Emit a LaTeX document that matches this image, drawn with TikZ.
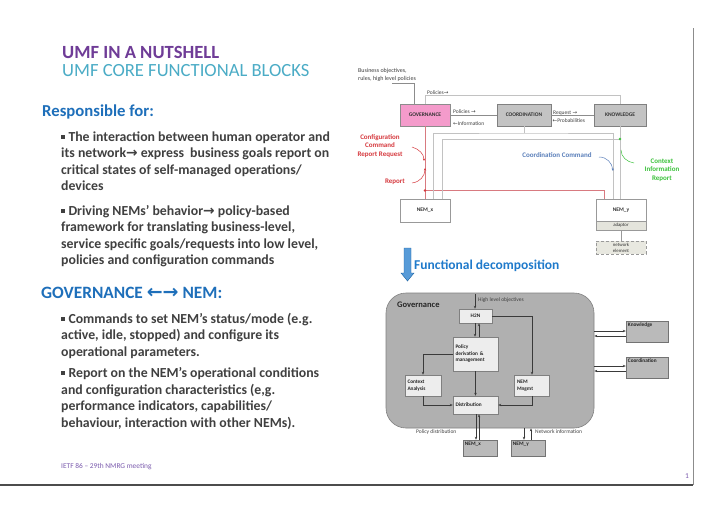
\documentclass[tikz,border=0pt]{standalone}
\usepackage{fontspec}
\setmainfont{Carlito}
\newfontfamily\symf{DejaVu Sans}
\usetikzlibrary{arrows.meta}
\definecolor{bodygray}{HTML}{404040}
\definecolor{titlepurple}{HTML}{6F3C97}
\definecolor{sublue}{HTML}{4BACC6}
\definecolor{headblue}{HTML}{1E6FBA}
\definecolor{footpurple}{HTML}{7B5BAE}
\definecolor{govpink}{HTML}{F49BCB}
\definecolor{boxgray}{HTML}{C3C3C3}
\definecolor{lgray}{HTML}{C2C2C2}
\definecolor{redl}{HTML}{D87A80}
\definecolor{redt}{HTML}{D63A3F}
\definecolor{bluet}{HTML}{5A7FBA}
\definecolor{greent}{HTML}{3CC23C}
\definecolor{fdblue}{HTML}{1F7ACB}
\definecolor{biggray}{HTML}{B0B0B0}
\definecolor{inbox}{HTML}{EDEDED}
\definecolor{outbox}{HTML}{BABABA}
\definecolor{arrgray}{HTML}{3A3A3A}
\newcommand\bul{\raisebox{2.3pt}{\rule{3.3pt}{3.3pt}}\hspace{4pt}}
\begin{document}
\begin{tikzpicture}[x=1pt,y=-1pt,
  txt/.style={anchor=base west, inner sep=0pt, text=bodygray, font=\fontsize{13.8}{16}\selectfont\bfseries},
  head/.style={anchor=base west, inner sep=0pt, text=headblue, font=\fontsize{16.7}{19}\selectfont\bfseries},
  ttl/.style={anchor=base west, inner sep=0pt, font=\fontsize{18.6}{21}\selectfont},
  ubox/.style={draw=gray, line width=0.5pt, inner sep=0pt, font=\fontsize{5.5}{6.5}\selectfont\bfseries, text=black!80, align=center},
  gline/.style={draw=lgray, line width=0.6pt},
  rline/.style={draw=redl, line width=0.6pt},
  small/.style={inner sep=0pt, font=\fontsize{5.5}{6.5}\selectfont, text=bodygray},
  lbl/.style={inner sep=0pt, font=\fontsize{7}{8.6}\selectfont\bfseries, align=center},
  lbox/.style={draw=gray, fill=inbox, line width=0.5pt, inner sep=1.5pt, font=\fontsize{5.3}{6.5}\selectfont\bfseries, align=left, text=black!85},
  obox/.style={draw=black!55, fill=outbox, line width=0.5pt, inner sep=0pt},
  olab/.style={anchor=north west, inner sep=2pt, font=\fontsize{5.3}{6.5}\selectfont\bfseries, text=black!85},
  arr/.style={draw=arrgray, line width=0.5pt, -{Stealth[length=3pt,width=2.4pt]}},
  tiny/.style={inner sep=0pt, font=\fontsize{5.5}{6.5}\selectfont, text=black!75}
]
\useasboundingbox (0,0) rectangle (720,509);
\fill[white] (0,0) rectangle (720,509);

% frame lines
\coordinate (fr1) at (693,28);
\coordinate (fr2) at (693,485);
\coordinate (fr3) at (0,485);
\draw[black!45, line width=0.9pt] (fr1) -- (fr2);
\draw[black!70, line width=1.2pt] (fr3) -- (fr2);

% titles
\node[ttl, text=titlepurple, font=\fontsize{18.6}{21}\selectfont\bfseries] (title) at (62,58) {UMF IN A NUTSHELL};
\node[ttl, text=sublue] (subtitle) at (62,76) {UMF CORE FUNCTIONAL BLOCKS};
\node[head] (resp) at (42,116) {Responsible for:};

\node[txt] (t1) at (61,141) {\bul The interaction between human operator and};
\node[txt] (t2) at (61,157.5) {its network{\symf →} express\ \ business goals report on};
\node[txt] (t3) at (61,174) {critical states of self-managed operations/};
\node[txt] (t4) at (61,190.5) {devices};
\node[txt] (t5) at (61,215) {\bul Driving NEMs’ behavior{\symf →} policy-based};
\node[txt] (t6) at (61,231.5) {framework for translating business-level,};
\node[txt] (t7) at (61,248) {service specific goals/requests into low level,};
\node[txt] (t8) at (61,264) {policies and configuration commands};

\node[head, font=\fontsize{17.3}{19}\selectfont\bfseries] (gnem) at (41,298) {GOVERNANCE {\symf\fontsize{19}{19}\selectfont ←→} NEM:};
\node[txt] (t9) at (61,323) {\bul Commands to set NEM’s status/mode (e.g.};
\node[txt] (t10) at (61,339.5) {active, idle, stopped) and configure its};
\node[txt] (t11) at (61,356) {operational parameters.};
\node[txt] (t12) at (61,377) {\bul Report on the NEM’s operational conditions};
\node[txt] (t13) at (61,394) {and configuration characteristics (e,g.};
\node[txt] (t14) at (61,410.5) {performance indicators, capabilities/};
\node[txt] (t15) at (61,427) {behaviour, interaction with other NEMs).};

\node[anchor=base west, inner sep=0pt, text=footpurple, font=\fontsize{7.4}{8}\selectfont] (foot) at (61,468) {IETF 86 – 29th NMRG meeting};
\node[anchor=base, inner sep=0pt, text=footpurple, font=\fontsize{7.5}{8}\selectfont] (pnum) at (687,478) {1};

% ===== upper diagram =====
\node[small, anchor=west, align=left, font=\fontsize{6}{8}\selectfont] (biz) at (358,74.5) {Business objectives,\\rules, high level policies};
\node[ubox, fill=govpink, draw=black!45, minimum width=50pt, minimum height=22pt] (gov) at (425,115) {GOVERNANCE};
\node[ubox, fill=boxgray, minimum width=54pt, minimum height=22pt] (coord) at (524,115) {COORDINATION};
\node[ubox, fill=boxgray, minimum width=52pt, minimum height=22pt] (know) at (620,115) {KNOWLEDGE};
\node[ubox, fill=white, draw=black!40, minimum width=50pt, minimum height=23pt] (nemx) at (425,210.5) {NEM\_x};
\node[ubox, fill=white, draw=black!40, minimum width=50pt, minimum height=22pt] (nemy) at (621,210) {NEM\_y};
\node[ubox, fill={rgb,255:red,228;green,228;blue,220}, draw=black!40, minimum width=50pt, minimum height=9pt, font=\fontsize{4.8}{5.5}\selectfont] (adapt) at (621,225.5) {adaptor};
\node[ubox, fill={rgb,255:red,232;green,232;blue,224}, draw=black!40, densely dashed, minimum width=50pt, minimum height=13pt, font=\fontsize{4.8}{5.8}\selectfont] (netel) at (621,247.5) {network\\element};

\coordinate (bizend) at (392,83);
\draw[draw=black!45, line width=0.5pt] (bizend) -| ([xshift=-11pt]gov.north);
\draw[gline] (gov.north) -- ++(0,-8) -| (know.north);
\node[small, anchor=base west] (lpol) at (427,94) {Policies{\symf →}};
\draw[draw=black!45, line width=0.5pt] (gov.east) -- (coord.west);
\draw[draw=black!45, line width=0.5pt] (coord.east) -- (know.west);
\node[small, anchor=base west] (lpol2) at (453,113) {Policies {\symf →}};
\node[small, anchor=base west] (linf) at (453,125) {{\symf ←}Information};
\node[small, anchor=base west] (lreq) at (553,114) {Request {\symf →}};
\node[small, anchor=base west] (lprob) at (552.5,122.5) {{\symf ←}Probabilities};

\draw[rline] (gov.south) -- (nemx.north);
\coordinate (rdot) at (425,190.5);
\draw[rline] (rdot) -| ([xshift=-17pt]nemy.north);
\fill[redt] (rdot) circle (1.4pt);

\coordinate (g1) at (524,133);
\draw[gline] (coord.south) -- (g1);
\draw[gline] ([xshift=8pt]nemx.north) |- (g1) -| ([xshift=-8pt]nemy.north);
\coordinate (gdot) at (620,139);
\draw[gline] ([xshift=17pt]nemx.north) |- (gdot);
\draw[gline] (know.south) -- (know.south |- nemy.north);
\fill[greent] (gdot) circle (1.4pt);
\draw[draw=black!40, line width=0.5pt] (adapt.south) -- (netel.north);

\node[lbl, text=redt] (cfg) at (380,146) {Configuration\\Command\\Report Request};
\node[lbl, text=redt] (rep) at (395,182) {Report};
\node[lbl, text=bluet] (ccmd) at (557,155) {Coordination Command};
\node[lbl, text=greent] (ctxr) at (662,170) {Context\\Information\\Report};

\coordinate (c1a) at (412,147); \coordinate (c1b) at (424,161);
\draw[redt, line width=0.5pt, -{Stealth[length=2.5pt,width=2.2pt]}] (c1a) .. controls (419,149) and (424,154) .. (c1b);
\coordinate (c2a) at (412,183); \coordinate (c2b) at (425,168);
\draw[redt, line width=0.5pt, -{Stealth[length=2.5pt,width=2.2pt]}] (c2a) .. controls (420,182) and (425,176) .. (c2b);
\coordinate (c3a) at (599,157); \coordinate (c3b) at (613,171);
\draw[bluet, line width=0.5pt, -{Stealth[length=2.5pt,width=2.2pt]}] (c3a) .. controls (607,157) and (612,163) .. (c3b);
\coordinate (c4a) at (634,163); \coordinate (c4b) at (621,150);
\draw[greent, line width=0.5pt] (c4a) .. controls (627,162) and (621,157) .. (c4b);

% functional decomposition arrow
\fill[fdblue!75!white, draw=fdblue!80!black, line width=0.4pt] (404,248) -- (411,248) -- (411,273) -- (414,273) -- (407.5,281) -- (401,273) -- (404,273) -- cycle;
\node[anchor=base west, inner sep=0pt, text=fdblue, font=\fontsize{13.5}{16}\selectfont\bfseries] (fdec) at (414,269) {Functional decomposition};

% ===== lower diagram =====
\node[draw=black!50, fill=biggray, rounded corners=20pt, minimum width=208pt, minimum height=135pt, inner sep=0pt, line width=0.6pt] (govbig) at (490,360.5) {};
\node[anchor=west, inner sep=0pt, font=\fontsize{8.5}{10}\selectfont\bfseries, text=black!85] (govt) at (397,305) {Governance};

\node[lbox, minimum width=33pt, minimum height=14pt, align=center] (h2n) at (475.5,316) {H2N};
\node[lbox, minimum width=45pt, minimum height=34pt, text width=40pt] (pdm) at (475.5,354) {Policy\\derivation \&\\management};
\node[lbox, minimum width=35pt, minimum height=21pt, text width=30pt] (nemm) at (532,385.5) {NEM\\Mngmt};
\node[lbox, minimum width=36pt, minimum height=21pt, text width=31pt] (ctx) at (423,385.5) {Context\\Analysis};
\node[lbox, minimum width=45pt, minimum height=18pt, text width=40pt] (dist) at (475.5,405) {Distribution};

\node[obox, minimum width=34pt, minimum height=16pt, label={[olab]north west:NEM\_x}] (nemx2) at (480,448) {};
\node[obox, minimum width=34pt, minimum height=16pt, label={[olab]north west:NEM\_y}] (nemy2) at (528,448) {};
\node[obox, minimum width=42pt, minimum height=21pt, label={[olab]north west:Knowledge}] (knowb) at (647,331.5) {};
\node[obox, minimum width=42pt, minimum height=21pt, label={[olab]north west:Coordination}] (coordb) at (647,367.5) {};

\coordinate (hlo) at (475,294);
\draw[arr] (hlo) -- (hlo |- h2n.north);
\node[tiny, anchor=west] (hlot) at (478,300) {High level objectives};
\draw[arr] ([xshift=-0.5pt]h2n.south) -- ([xshift=-0.5pt]h2n.south |- pdm.north);
\draw[arr] ([xshift=3.5pt]pdm.north) -- ([xshift=3.5pt]pdm.north |- h2n.south);
\draw[arr] (h2n.east) -| (nemm.north);
\draw[arr] (pdm.west) -| (ctx.north);
\draw[arr] (pdm.south) -- (dist.north);
\draw[arr] (ctx.south) |- (dist.west);
\draw[arr] (nemm.south) |- (dist.east);

\draw[arr] ([xshift=-4pt]nemx2.north |- dist.south) -- ([xshift=-4pt]nemx2.north);
\draw[arr] ([xshift=-1pt]nemx2.north) -- ([xshift=-1pt]nemx2.north |- dist.south);
\draw[arr] ([xshift=-4pt]nemy2.north |- govbig.south) -- ([xshift=-4pt]nemy2.north);
\draw[arr] ([xshift=3pt]nemy2.north) -- ([xshift=3pt]nemy2.north |- govbig.south);
\node[tiny, anchor=west] (pdis) at (416,432) {Policy distribution};
\node[tiny, anchor=west] (ninf) at (535,432) {Network information};

\draw[arr] ([yshift=0.5pt]knowb.west -| govbig.east) -- ([yshift=0.5pt]knowb.west);
\draw[arr] ([yshift=-4.5pt]knowb.west) -- ([yshift=-4.5pt]knowb.west -| govbig.east);
\draw[arr] ([yshift=1.5pt]coordb.west -| govbig.east) -- ([yshift=1.5pt]coordb.west);
\draw[arr] ([yshift=-3.5pt]coordb.west) -- ([yshift=-3.5pt]coordb.west -| govbig.east);
\end{tikzpicture}
\end{document}
